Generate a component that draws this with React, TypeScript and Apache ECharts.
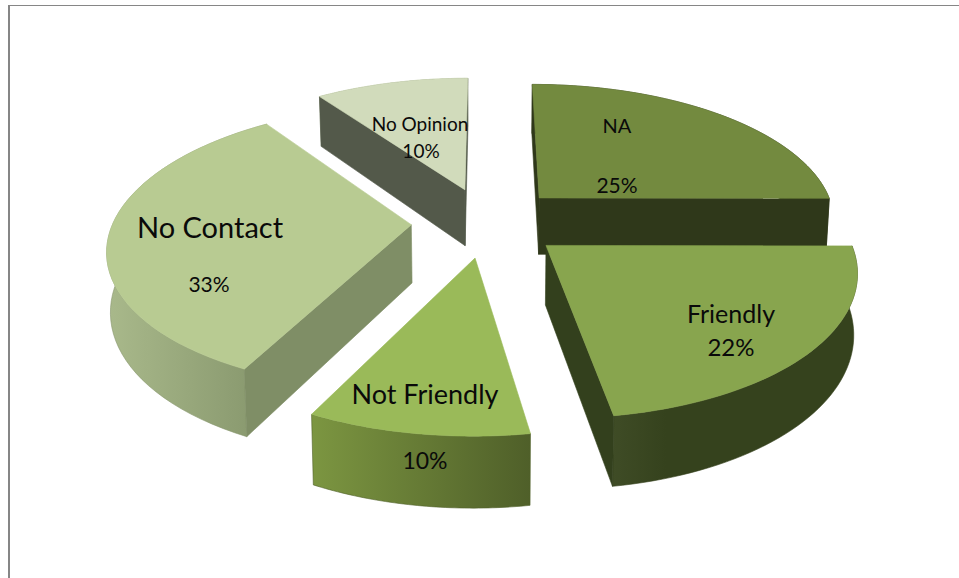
import React, { useEffect, useRef } from "react";
import * as echarts from "echarts";

const categories = ["NA", "Friendly", "Not Friendly", "No Contact", "No Opinion"];
const shareValues = [25.05, 22.45, 9.85, 32.85, 9.8];

const topColors = ["#738a3f", "#88a54e", "#9aba59", "#b8cb92", "#d1dbbb"];
const wallFrom = ["#2f3a1b", "#3f4c26", "#7c9641", "#a9b98b", "#c5cfb0"];
const wallTo = ["#2f3a1b", "#35421d", "#4f5f29", "#86966c", "#c5cfb0"];
const faceColors = ["#2f381a", "#33401d", "#4f5f29", "#7f8e66", "#53594a"];
const drawRank = [1, 3, 4, 2, 0];

// label layout: [name x, name y, name size, share x, share y, share size]
const labelLayout = [
  [617, 125, 20, 617, 184, 21],
  [731, 313, 25, 731, 346, 24],
  [425, 393, 27, 425, 460, 23],
  [210, 226, 29, 209, 283, 21],
  [420, 123, 19, 421, 150, 19],
];

const CX = 487, CY = 222, R = 298, S = 138, K = 0.155, EXPLODE = 0.254, DEPTH = 58, BOTTOM_SCALE = 0.99;
const total = shareValues.reduce((a, b) => a + b, 0);

function project(u: number, v: number, bottom: boolean): number[] {
  const w = 1 - K * v;
  let x = CX + (R * u) / w;
  let y = CY + (S * v) / w;
  if (bottom) {
    x = CX + (x - CX) * BOTTOM_SCALE;
    y += DEPTH / w;
  }
  return [x, y];
}

function signedArea(points: number[][]): number {
  let area = 0;
  points.forEach((p, n) => {
    const q = points[(n + 1) % points.length];
    area += p[0] * q[1] - q[0] * p[1];
  });
  return area;
}

function renderSlice(params: any, api: any) {
  const i = params.dataIndex;
  const value = api.value(0);
  let before = 0;
  for (let k = 0; k < i; k++) before += shareValues[k];
  const a0 = (before / total) * Math.PI * 2;
  const a1 = ((before + value) / total) * Math.PI * 2;
  const mid = (a0 + a1) / 2;
  const eu = EXPLODE * Math.sin(mid);
  const ev = -EXPLODE * Math.cos(mid);
  const arc: number[][] = [];
  const steps = 48;
  for (let s = 0; s <= steps; s++) {
    const a = a0 + ((a1 - a0) * s) / steps;
    arc.push([eu + Math.sin(a), ev - Math.cos(a)]);
  }
  const topArc = arc.map((p) => project(p[0], p[1], false));
  const botArc = arc.map((p) => project(p[0], p[1], true));
  const apexT = project(eu, ev, false);
  const apexB = project(eu, ev, true);
  const base = drawRank[i] * 10;
  const poly = (points: number[][], fill: any, stroke: string, z: number) => ({
    type: "polygon",
    z2: base + z,
    shape: { points },
    style: { fill, stroke, lineWidth: 0.6 },
    silent: true,
  });
  const stops = [{ offset: 0, color: wallFrom[i] }];
  if (i === 1) stops.push({ offset: 0.22, color: wallTo[i] });
  stops.push({ offset: 1, color: wallTo[i] });
  const wallGrad = new echarts.graphic.LinearGradient(0, 0, 1, 0, stops);
  const L = labelLayout[i];
  const txt = (text: string, x: number, y: number, size: number) => ({
    type: "text",
    z2: 100,
    silent: true,
    style: {
      text,
      x,
      y,
      fontSize: size,
      fontFamily: "Lato, 'Open Sans', sans-serif",
      fill: "#0a0a0a",
      align: "center",
      verticalAlign: "middle",
    },
  });
  const startFace = [apexT, topArc[0], botArc[0], apexB];
  const endFace = [apexT, topArc[steps], botArc[steps], apexB];
  const children: any[] = [
    poly([...topArc, ...botArc.slice().reverse()], i === 0 || i === 4 ? faceColors[i] : wallGrad, wallTo[i], 0),
  ];
  if (signedArea(startFace) < 0) children.push(poly(startFace, faceColors[i], faceColors[i], 1));
  if (signedArea(endFace) > 0) children.push(poly(endFace, faceColors[i], faceColors[i], 2));
  children.push(poly([apexT, ...topArc], topColors[i], topColors[i], 3));
  children.push(txt(categories[i], L[0], L[1], L[2]));
  children.push(txt(`${Math.round((value / total) * 100)}%`, L[3], L[4], L[5]));
  return { type: "group", children };
}

export default function App() {
  const ref = useRef<HTMLDivElement>(null);
  useEffect(() => {
    const chart = echarts.init(ref.current!, undefined, { renderer: "svg" });
    chart.setOption({
      animation: false,
      backgroundColor: "#ffffff",
      graphic: [
        { type: "line", shape: { x1: 8, y1: 5.5, x2: 959, y2: 5.5 }, style: { stroke: "#868686", lineWidth: 1 } },
        { type: "line", shape: { x1: 9, y1: 5, x2: 9, y2: 578 }, style: { stroke: "#868686", lineWidth: 2 } },
      ],
      series: [
        {
          type: "custom",
          coordinateSystem: "none",
          data: shareValues.map((v, i) => ({ name: categories[i], value: [v] })),
          renderItem: renderSlice,
        },
      ],
    });
    return () => chart.dispose();
  }, []);
  return <div ref={ref} style={{ position: "absolute", left: 0, top: 0, width: 959, height: 578 }} />;
}
